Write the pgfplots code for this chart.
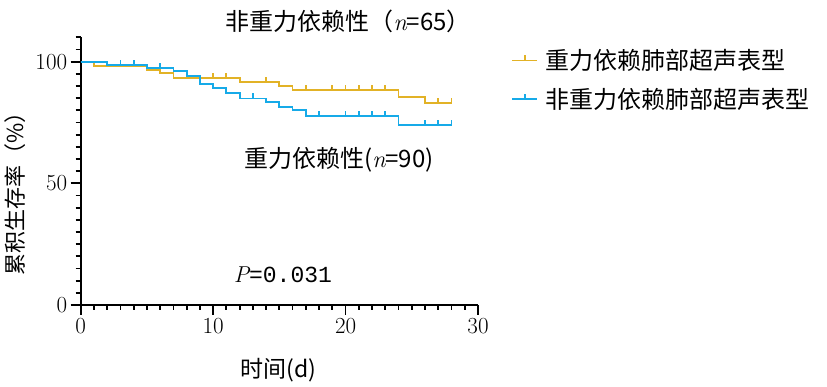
\documentclass[border=0pt]{standalone}
\usepackage{fontspec}
\usepackage{pgfplots}
\pgfplotsset{compat=1.18}
\newfontfamily\cjk{Noto Sans CJK SC}
\newfontfamily\mono{Liberation Mono}
\definecolor{kmyellow}{RGB}{226,178,38}
\definecolor{kmblue}{RGB}{22,170,232}
\pgfdeclareplotmark{utick}{\pgfpathmoveto{\pgfpointorigin}\pgfpathlineto{\pgfpoint{0pt}{5pt}}\pgfusepathqstroke}
\begin{document}
\begin{tikzpicture}
\path[use as bounding box] (0,0) rectangle (827pt,387pt);
\begin{axis}[
  at={(80.7pt,82pt)}, anchor=south west,
  scale only axis, width=397.3pt, height=267.6pt,
  xmin=0, xmax=30, ymin=0, ymax=110,
  axis x line*=bottom, axis y line*=left,
  axis line style={-, line width=1.9pt, black},
  xtick={0,10,20,30}, ytick={0,50,100},
  minor xtick={0,1,...,30}, minor ytick={0,5,...,110},
  tick align=outside, major tick length=10pt, minor tick length=5pt,
  tick style={black, line width=1.8pt},
  /pgf/number format/assume math mode=true,
  tick label style={font=\fontsize{23}{26}\selectfont},
  xlabel={\cjk 时间(d)},
  x label style={at={(axis description cs:0.497,-0.243)}, anchor=center, font=\fontsize{23}{26}\selectfont},
  ylabel={\cjk 累积生存率（\%）},
  y label style={at={(axis description cs:-0.165,0.435)}, anchor=center, rotate=0, font=\fontsize{22}{26}\selectfont},
  legend style={at={(axis description cs:1,1)}, anchor=north west, xshift=33pt, yshift=-10pt,
    draw=none, fill=none, inner sep=0pt, row sep=13pt,
    /tikz/every odd column/.append style={column sep=5pt},
    font=\cjk\fontsize{24}{28}\selectfont, cells={anchor=west}},
  legend image code/.code={\draw[#1, line width=1.8pt] (0pt,0pt) -- (25pt,0pt); \draw[#1, line width=1.8pt] (12.5pt,0pt) -- (12.5pt,5pt);},
  clip=false,
]
\addplot[const plot, kmyellow, line width=1.8pt] coordinates {
  (0,100) (1,98.2) (5,96.6) (6,95.2) (7,93.4) (12,91.8) (15,90.1) (16,88.4) (24,85.6) (26,83.1) (28,83.1)};
\addlegendentry{重力依赖肺部超声表型}
\addplot[const plot, kmblue, line width=1.8pt] coordinates {
  (0,100) (2,98.6) (5,97.5) (7,96.2) (8,94.2) (9,90.7) (10,89.1) (11,87.0) (12,84.9) (14,83.3) (15,81.5) (16,80.1) (17,77.7) (24,74.0) (28,74.0)};
\addlegendentry{非重力依赖肺部超声表型}
\addplot[only marks, mark=utick, kmyellow, line width=1.8pt, forget plot] coordinates {
  (10,93.4) (11,93.4) (14,91.8) (17,88.4) (19,88.4) (20,88.4) (21,88.4) (22,88.4) (23,88.4) (27,83.1) (28,83.1)};
\addplot[only marks, mark=utick, kmblue, line width=1.8pt, forget plot] coordinates {
  (3,98.6) (4,98.6) (6,97.5) (13,84.9) (18,77.7) (20,77.7) (21,77.7) (22,77.7) (23,77.7) (26,74.0) (27,74.0) (28,74.0)};
\node[font=\cjk\fontsize{24}{28}\selectfont] at (axis description cs:0.673,1.058) {非重力依赖性（{\rmfamily\itshape n}=65）};
\node[font=\cjk\fontsize{24}{28}\selectfont] at (axis description cs:0.650,0.542) {重力依赖性({\rmfamily\itshape n}=90)};
\node[font=\fontsize{23}{26}\selectfont] at (axis description cs:0.509,0.112) {{\itshape P}{\mono =0.031}};
\end{axis}
\end{tikzpicture}
\end{document}
